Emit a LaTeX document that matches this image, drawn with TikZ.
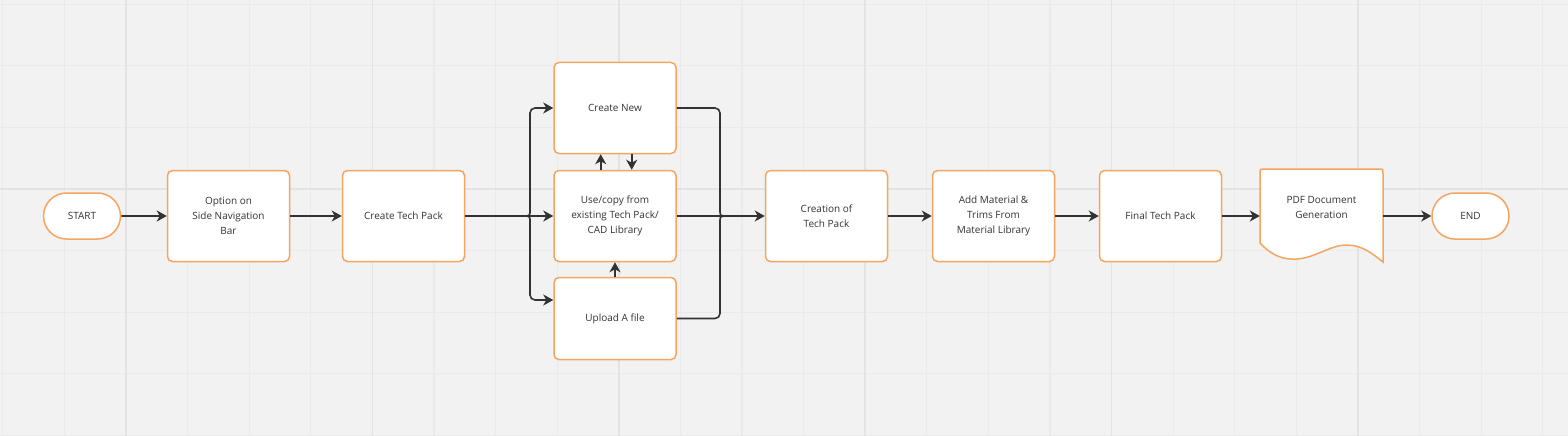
\documentclass[tikz,border=0pt]{standalone}
\usepackage{fontspec}
\setmainfont{Open Sans}
\usetikzlibrary{arrows.meta,shapes.misc,calc}
\definecolor{bg}{HTML}{F2F2F2}
\definecolor{gmin}{HTML}{EAEAEA}
\definecolor{gmaj}{HTML}{E3E3E3}
\definecolor{orng}{HTML}{F4A661}
\definecolor{ln}{HTML}{333333}
\definecolor{txt}{HTML}{333333}
\begin{document}
\begin{tikzpicture}[x=1pt,y=-1pt,
  lbl/.style={font=\fontsize{10}{15}\selectfont, text=txt, align=center},
  box/.style={lbl, draw=orng, line width=1.5pt, fill=white, rounded corners=5pt,
    minimum width=122pt, minimum height=91pt, inner sep=0pt},
  term/.style={lbl, draw=orng, line width=1.5pt, fill=white, rounded rectangle,
    minimum width=77pt, minimum height=46pt, inner sep=0pt},
  line/.style={draw=ln, line width=1.6pt},
  conn/.style={line, -{Stealth[length=10pt,width=11pt,inset=3pt]}}
]
\useasboundingbox (0,0) rectangle (1568,436);
\fill[bg] (0,0) rectangle (1568,436);
% grid
\foreach \k in {-2,...,23} {\draw[gmin, line width=1.2pt] ({126+61.6*\k},0) -- ({126+61.6*\k},436);}
\foreach \k in {-3,...,4} {\draw[gmin, line width=1.2pt] (0,{189+61.6*\k}) -- (1568,{189+61.6*\k});}
\foreach \k in {0,4,...,20} {\draw[gmaj, line width=1.6pt] ({126+61.6*\k},0) -- ({126+61.6*\k},436);}
\draw[gmaj, line width=1.6pt] (0,189) -- (1568,189);

% nodes
\node[term] (start) at (82,216) {START};
\node[box] (opt) at (228.5,216) {Option on\\Side Navigation\\Bar};
\node[box] (ctp) at (403.5,216) {Create Tech Pack};
\node[box] (cnew) at (615,108) {Create New};
\node[box] (use) at (615,216) {Use/copy from\\existing Tech Pack/\\CAD Library};
\node[box, minimum height=82pt] (upl) at (615,318.5) {Upload A file};
\node[box] (cre) at (826.5,216) {Creation of\\Tech Pack};
\node[box] (mat) at (993.5,216) {Add Material \&\\Trims From\\Material Library};
\node[box] (fin) at (1160.5,216) {Final Tech Pack};
% document shape
\draw[draw=orng, line width=1.5pt, fill=white]
  (1383,262) .. controls (1373,254) and (1362,245) .. (1347,245)
  .. controls (1330,245) and (1315,258) .. (1297,259)
  .. controls (1284,260) and (1272,256) .. (1260,243)
  -- (1260,174) .. controls (1260,169) .. (1265,169)
  -- (1378,169) .. controls (1383,169) .. (1383,174) -- cycle;
\node[inner sep=0pt, minimum width=123pt, minimum height=94pt] (pdf) at (1321.5,216) {};
\node[lbl] (pdftxt) at (1321.5,207) {PDF Document\\Generation};
\node[term] (end) at (1470.5,216) {END};

% connectors
\draw[conn] (start) -- (opt);
\draw[conn] (opt) -- (ctp);
\draw[conn] (ctp.east) -- (use.west);
\draw[line] (530,210) .. controls (530,215) .. (526.5,216) .. controls (530,217) .. (530,222);
\draw[conn, rounded corners=5pt] (530,210) |- (cnew.west);
\draw[conn, rounded corners=5pt] (530,222) |- ($(upl.west)+(0,-18.5)$);
\draw[line, rounded corners=5pt] (cnew.east) -| (720,210);
\draw[line, rounded corners=5pt] (upl.east) -| (720,222);
\draw[line] (720,210) .. controls (720,215) .. (723.5,216) .. controls (720,217) .. (720,222);
\draw[conn] (use.east) -- (cre.west);
\draw[conn] ($(use.north)+(-14.3,0)$) -- ($(cnew.south)+(-14.3,0)$);
\draw[conn] ($(cnew.south)+(16.7,0)$) -- ($(use.north)+(16.7,0)$);
\draw[conn] (upl.north) -- (use.south);
\draw[conn] (cre) -- (mat);
\draw[conn] (mat) -- (fin);
\draw[conn] (fin.east) -- (pdf.west);
\draw[conn] (pdf.east) -- (end.west);
\end{tikzpicture}
\end{document}
